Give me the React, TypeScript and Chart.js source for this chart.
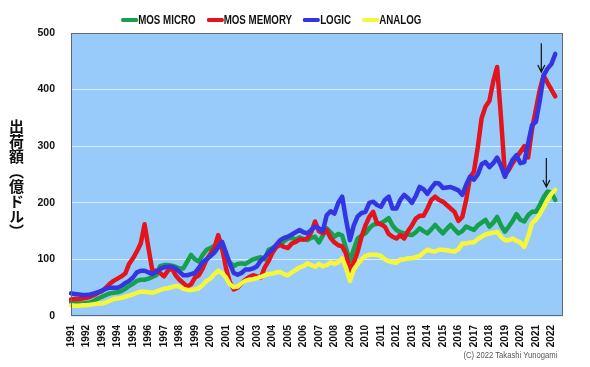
import React, { useEffect, useRef } from "react";
import { Chart, registerables } from "chart.js";

Chart.register(...registerables);

const years = [1991, 1992, 1993, 1994, 1995, 1996, 1997, 1998, 1999, 2000, 2001, 2002, 2003, 2004, 2005, 2006, 2007, 2008, 2009, 2010, 2011, 2012, 2013, 2014, 2015, 2016, 2017, 2018, 2019, 2020, 2021, 2022];
const quarters = ["Q1", "Q2", "Q3", "Q4"];
const yTicks = [0, 100, 200, 300, 400, 500];

const seriesNames = ["MOS MICRO", "MOS MEMORY", "LOGIC", "ANALOG"];
const seriesColors = ["#17a04c", "#e3141b", "#3434e2", "#f6f63a"];

// quarterly shipments (100M USD), 1991Q1 .. 2022Q2
const mosMicro = [
  24, 23, 22, 22, 23, 24, 27, 31, 34, 37, 40, 41, 42, 44, 48, 53,
  57, 62, 64, 64, 66, 69, 72, 88, 90, 90, 89, 87, 84, 84, 96, 108,
  100, 96, 108, 117, 120, 124, 128, 118, 106, 95, 88, 92, 93, 92, 96, 100,
  102, 104, 100, 117, 120, 123, 127, 132, 137, 138, 135, 139, 136, 134, 138, 140,
  130, 142, 155, 148, 140, 145, 142, 120, 97, 118, 137, 142, 146, 155, 161, 163,
  164, 168, 173, 160, 152, 148, 146, 144, 143, 148, 155, 150, 146, 153, 161, 153,
  146, 154, 161, 153, 146, 150, 158, 155, 152, 160, 165, 170, 158, 165, 175, 160,
  149, 158, 168, 180, 170, 167, 178, 184, 184, 196, 210, 220, 218, 205,
];
const mosMemory = [
  29, 30, 30, 31, 32, 34, 37, 41, 44, 50, 57, 62, 66, 70, 75, 92,
  102, 114, 128, 162, 120, 80, 80, 76, 70, 80, 85, 72, 64, 58, 52, 56,
  68, 72, 84, 100, 110, 120, 143, 120, 85, 60, 47, 50, 58, 64, 69, 72,
  70, 68, 86, 97, 112, 122, 126, 122, 120, 128, 131, 135, 135, 137, 148, 167,
  150, 146, 152, 138, 130, 125, 123, 110, 78, 95, 114, 140, 160, 175, 184, 164,
  162, 158, 145, 140, 137, 143, 137, 150, 160, 172, 177, 177, 190, 205, 211, 205,
  202, 196, 190, 184, 168, 175, 205, 245, 255, 298, 350, 370, 380, 415, 440, 350,
  250, 258, 270, 280, 290, 300, 280, 330, 365, 400, 425, 412, 400, 388,
];
const logic = [
  40, 39, 38, 37, 37, 38, 40, 42, 45, 48, 50, 50, 50, 53, 58, 62,
  68, 77, 80, 80, 77, 74, 78, 83, 86, 87, 87, 84, 78, 72, 72, 74,
  76, 85, 95, 100, 106, 112, 122, 131, 112, 92, 76, 73, 76, 82, 82, 84,
  88, 98, 104, 112, 118, 126, 134, 138, 140, 144, 148, 152, 148, 146, 152, 158,
  155, 150, 178, 185, 181, 200, 211, 170, 134, 160, 176, 182, 184, 200, 202, 196,
  193, 205, 211, 190, 190, 205, 214, 208, 200, 212, 228, 224, 216, 226, 235, 234,
  226, 227, 228, 225, 222, 214, 232, 246, 241, 250, 268, 272, 263, 270, 280, 265,
  246, 262, 276, 284, 270, 272, 305, 337, 343, 380, 425, 437, 445, 463,
];
const analog = [
  19, 18, 18, 19, 19, 20, 21, 22, 22, 24, 27, 30, 31, 32, 34, 36,
  38, 41, 43, 43, 42, 41, 43, 46, 48, 49, 51, 53, 52, 48, 46, 46,
  47, 49, 55, 62, 66, 74, 80, 76, 68, 56, 51, 52, 58, 62, 64, 65,
  67, 69, 72, 74, 75, 77, 78, 74, 72, 77, 81, 86, 88, 93, 90, 87,
  92, 88, 90, 95, 92, 95, 102, 85, 62, 82, 92, 100, 106, 108, 108, 108,
  106, 100, 97, 95, 94, 100, 100, 102, 102, 104, 106, 112, 117, 115, 114, 117,
  117, 116, 115, 114, 118, 128, 128, 130, 130, 136, 140, 144, 146, 147, 149, 140,
  134, 134, 137, 133, 130, 122, 140, 164, 170, 180, 192, 205, 216, 223,
];

// annotation arrows: [category index, value at tail, value at tip]
const arrowIndex = [121.4, 122.7];
const arrowFrom = [482, 279];
const arrowTo = [431, 228];

const quarterLabels = years.flatMap((y) => quarters.map((q) => `${y} ${q}`));

const SANS = "'Liberation Sans', Arial, sans-serif";

const plotPlugin = {
  id: "plotFrame",
  beforeDraw(chart: any) {
    const { ctx, chartArea } = chart;
    const { left, top, right, bottom } = chartArea;
    ctx.save();
    ctx.fillStyle = "#99cbfa";
    ctx.fillRect(left, top, right - left, bottom - top);
    ctx.restore();
  },
  afterDraw(chart: any) {
    const { ctx, chartArea, scales } = chart;
    const { left, top, right, bottom } = chartArea;
    ctx.save();
    ctx.strokeStyle = "#5c6a78";
    ctx.lineWidth = 1;
    ctx.strokeRect(left + 0.5, top + 0.5, right - left - 1, bottom - top - 1);
    ctx.strokeStyle = "#111";
    ctx.lineWidth = 1.2;
    for (let i = 0; i < arrowIndex.length; i++) {
      const x = scales.x.getPixelForValue(arrowIndex[i]);
      const y1 = scales.y.getPixelForValue(arrowFrom[i]);
      const y2 = scales.y.getPixelForValue(arrowTo[i]);
      ctx.beginPath();
      ctx.moveTo(x, y1);
      ctx.lineTo(x, y2);
      ctx.moveTo(x - 3.5, y2 - 7);
      ctx.lineTo(x, y2);
      ctx.lineTo(x + 3.5, y2 - 7);
      ctx.stroke();
    }
    ctx.restore();
  },
};

export default function App() {
  const canvasRef = useRef<HTMLCanvasElement | null>(null);

  useEffect(() => {
    const canvas = canvasRef.current;
    if (!canvas) return;
    const seriesData = [mosMicro, mosMemory, logic, analog];
    const chart = new Chart(canvas, {
      type: "line",
      data: {
        labels: quarterLabels,
        datasets: seriesNames.map((name, i) => ({
          label: name,
          data: seriesData[i],
          borderColor: seriesColors[i],
          backgroundColor: seriesColors[i],
          borderWidth: 4.5,
          pointRadius: 0,
          tension: 0,
          borderJoinStyle: "round" as const,
          borderCapStyle: "round" as const,
          order: seriesNames.length - i,
        })),
      },
      options: {
        responsive: false,
        animation: false,
        devicePixelRatio: 1,
        layout: { padding: { top: 33, right: 27, left: 0, bottom: 0 } },
        plugins: {
          legend: { display: false },
          tooltip: { enabled: false },
        },
        scales: {
          x: {
            type: "category",
            offset: false,
            grid: { display: false, drawTicks: false },
            border: { display: false },
            ticks: {
              autoSkip: false,
              minRotation: 90,
              maxRotation: 90,
              padding: 9,
              color: "#111",
              font: { family: SANS, size: 10, weight: "bold" },
              callback: (_v: any, i: number) => (i % 4 === 0 ? String(years[i / 4]) : ""),
            },
            afterFit: (s: any) => {
              s.height = 51;
            },
          },
          y: {
            min: 0,
            max: 500,
            afterBuildTicks: (s: any) => {
              s.ticks = yTicks.map((v) => ({ value: v }));
            },
            grid: { color: "#d9ecff", lineWidth: 1, drawTicks: false },
            border: { display: false },
            ticks: {
              padding: 16,
              color: "#111",
              font: { family: SANS, size: 10.5, weight: "bold" },
            },
            afterFit: (s: any) => {
              s.width = 71;
            },
          },
        },
      },
      plugins: [plotPlugin],
    });
    return () => chart.destroy();
  }, []);

  return (
    <div style={{ position: "fixed", left: 0, top: 0, width: 590, height: 367, background: "#fff", overflow: "hidden" }}>
      <canvas ref={canvasRef} width={590} height={367} style={{ position: "absolute", left: 0, top: 0 }} />
      <div
        style={{
          position: "absolute",
          left: 121,
          top: 13,
          display: "flex",
          alignItems: "center",
          fontFamily: SANS,
          fontWeight: "bold",
          fontSize: 12.5,
          color: "#111",
          whiteSpace: "nowrap",
          transform: "scaleX(0.78)",
          transformOrigin: "left center",
        }}
      >
        {seriesNames.map((name, i) => (
          <div key={name} style={{ display: "flex", alignItems: "center", marginRight: 14 }}>
            <span style={{ display: "inline-block", width: 22, height: 4, background: seriesColors[i], borderRadius: 2 }} />
            <span>{name}</span>
          </div>
        ))}
      </div>
      <div
        style={{
          position: "absolute",
          left: 8,
          top: 119,
          writingMode: "vertical-rl",
          textOrientation: "mixed",
          fontFamily: "'Noto Sans CJK JP', sans-serif",
          fontWeight: "bold",
          fontSize: 15,
          lineHeight: "16px",
          color: "#111",
        }}
      >
        出荷額（億ドル）
      </div>
      <div
        style={{
          position: "absolute",
          right: 33,
          top: 350,
          fontFamily: SANS,
          fontSize: 9,
          color: "#555",
          whiteSpace: "nowrap",
          transform: "scaleX(0.85)",
          transformOrigin: "right center",
        }}
      >
        (C) 2022 Takashi Yunogami
      </div>
    </div>
  );
}
